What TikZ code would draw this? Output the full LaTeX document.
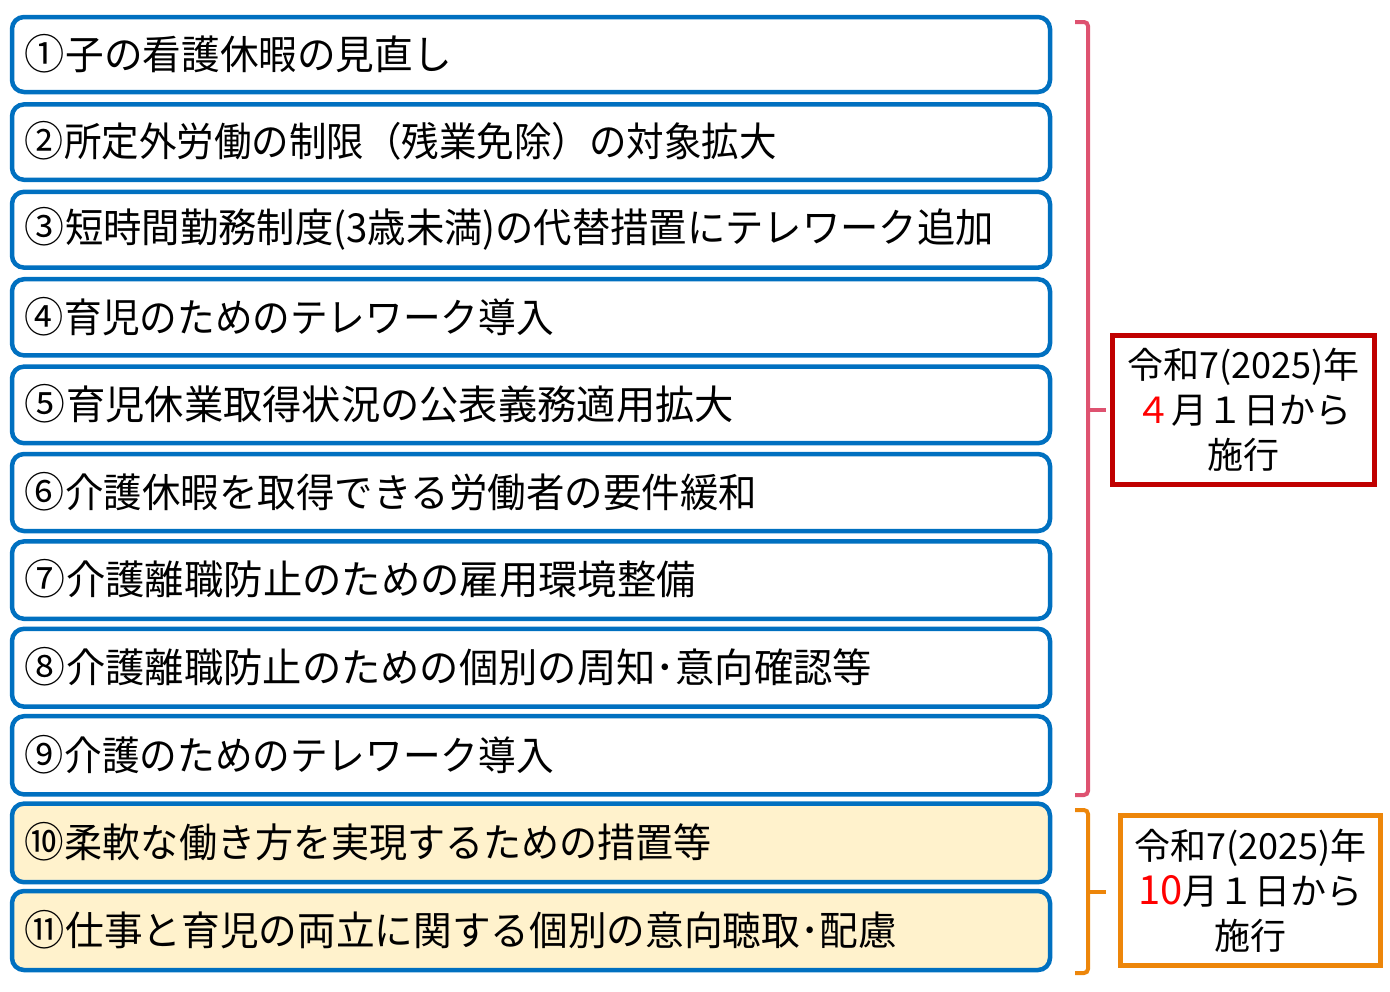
\documentclass[tikz,border=0pt]{standalone}
\usepackage{fontspec}
\usepackage{graphicx}
\newfontfamily\jp{Noto Sans CJK JP}
\definecolor{boxblue}{RGB}{0,112,192}
\definecolor{boxyellow}{RGB}{255,242,204}
\definecolor{bracepink}{RGB}{222,82,112}
\definecolor{darkred}{RGB}{192,0,0}
\definecolor{bracket}{RGB}{237,134,10}
\definecolor{numred}{RGB}{255,0,0}
\newcommand\circnum[1]{\makebox[44pt][l]{\hspace{2pt}\scalebox{1.04}{#1}}}
\tikzset{
  itembox/.style={draw=boxblue, line width=4.5pt, rounded corners=12pt, fill=white,
    minimum width=1038pt, inner sep=0pt},
  yellowbox/.style={itembox, fill=boxyellow},
  itemtext/.style={anchor=west, inner sep=0pt, font=\jp\fontsize{40}{44}\selectfont},
  datebox/.style={line width=5pt, fill=white, minimum width=262pt, minimum height=149pt,
    inner sep=0pt, align=center, font=\jp\fontsize{36}{45}\selectfont},
  bracestyle/.style={line width=4pt, rounded corners=4pt}
}
\begin{document}
\begin{tikzpicture}[x=1pt,y=-1pt]
\useasboundingbox (0,0) rectangle (1390,991);
\foreach \i/\n/\t/\w in {1/①/子の看護休暇の見直し/429,
  2/②/所定外労働の制限（残業免除）の対象拡大/754,
  3/③/短時間勤務制度(3歳未満)の代替措置にテレワーク追加/971,
  4/④/育児のためのテレワーク導入/531,
  5/⑤/育児休業取得状況の公表義務適用拡大/711,
  6/⑥/介護休暇を取得できる労働者の要件緩和/734,
  7/⑦/介護離職防止のための雇用環境整備/673,
  8/⑧/介護離職防止のための個別の周知･意向確認等/849,
  9/⑨/介護のためのテレワーク導入/531}{
  \node[itembox, minimum height={75pt+(\i-1)*0.4pt}] (b\i) at (531,{54.5+(\i-1)*87.6}) {};
  \node[itemtext] (t\i) at ([xshift=13pt,yshift=1pt]b\i.west) {\resizebox{\w pt}{\height}{\circnum{\n}\t}};
}
\foreach \i/\n/\t/\w in {10/⑩/柔軟な働き方を実現するための措置等/689,
  11/⑪/仕事と育児の両立に関する個別の意向聴取･配慮/874}{
  \node[yellowbox, minimum height={75pt+(\i-1)*0.4pt}] (b\i) at (531,{54.5+(\i-1)*87.6}) {};
  \node[itemtext] (t\i) at ([xshift=13pt,yshift=1pt]b\i.west) {\resizebox{\w pt}{\height}{\circnum{\n}\t}};
}
% date boxes
\node[datebox, draw=darkred] (d1) at (1243.5,410) {令和7(2025)年\\{\color{numred}４}月１日から\\施行};
\node[datebox, draw=bracket, minimum width=260pt, minimum height=150pt] (d2) at (1250.5,890.5) {令和7(2025)年\\{\color{numred}\fontsize{40}{45}\selectfont 10}月１日から\\施行};
% braces
\coordinate (r1) at (1075,22);
\coordinate (r2) at (1075,795);
\coordinate (rt) at (1106,410);
\draw[bracestyle, draw=bracepink] (r1) -- (1088,22) -- (1088,795) -- (r2);
\draw[bracestyle, draw=bracepink] (1086,410) -- (rt);
\coordinate (o1) at (1075,810);
\coordinate (o2) at (1075,973);
\coordinate (ot) at (1106,892);
\draw[bracestyle, draw=bracket] (o1) -- (1088,810) -- (1088,973) -- (o2);
\draw[bracestyle, draw=bracket] (1086,892) -- (ot);
\end{tikzpicture}
\end{document}
